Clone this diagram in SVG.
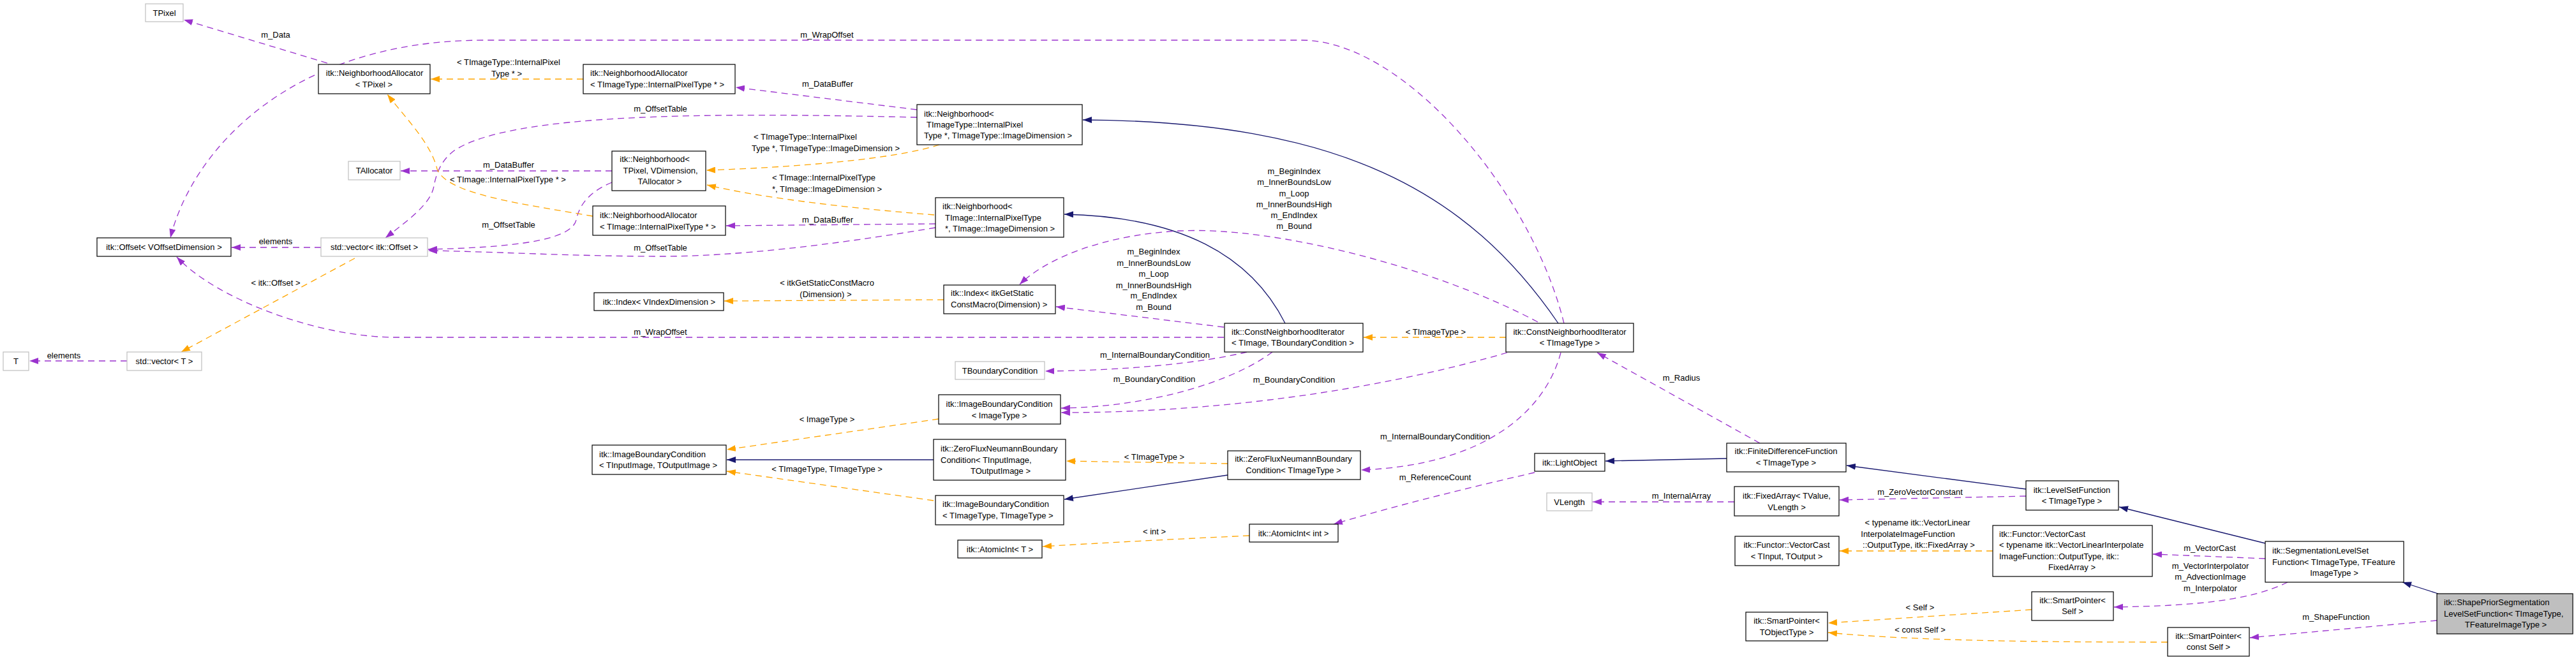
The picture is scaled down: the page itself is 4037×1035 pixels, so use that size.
<svg xmlns="http://www.w3.org/2000/svg" width="4037" height="1035" viewBox="0 0 4037 1035">
<style>
text{font-family:"Liberation Sans",Arial,Helvetica,sans-serif;font-size:13px;fill:#000}
.m{text-anchor:middle}
.s{text-anchor:start}
.n rect{fill:#fff;stroke:#000;stroke-width:1.2}
.g rect{fill:#fff;stroke:#bfbfbf;stroke-width:1.2}
.c rect{fill:#bfbfbf;stroke:#000;stroke-width:1.2}
#edges path{fill:none;stroke-width:1.3}
.u{stroke:#9a32cd;stroke-dasharray:10,7;marker-end:url(#ap)}
.t{stroke:#ffa500;stroke-dasharray:10,7;marker-end:url(#ao)}
.i{stroke:#191970;marker-end:url(#ab)}
</style>
<defs>
<marker id="ap" markerUnits="userSpaceOnUse" markerWidth="14" markerHeight="10" refX="14" refY="5" orient="auto"><path d="M0,0 L14,5 L0,10 z" fill="#9a32cd"/></marker>
<marker id="ao" markerUnits="userSpaceOnUse" markerWidth="14" markerHeight="10" refX="14" refY="5" orient="auto"><path d="M0,0 L14,5 L0,10 z" fill="#ffa500"/></marker>
<marker id="ab" markerUnits="userSpaceOnUse" markerWidth="14" markerHeight="10" refX="14" refY="5" orient="auto"><path d="M0,0 L14,5 L0,10 z" fill="#191970"/></marker>
</defs>
<rect width="4037" height="1035" fill="#fff"/>
<g id="edges">
<path class="u" d="M513,99 L288,31"/>
<path class="u" d="M2451,507 C2400,300 2200,63 2040,63 L760,63 C450,63 300,240 267,373"/>
<path class="u" d="M1437,172 L1153,137"/>
<path class="u" d="M1437,184 C1100,176 800,178 712,236 C690,252 683,275 680,292 C675,320 640,345 604,373"/>
<path class="u" d="M959,268 L628,268"/>
<path class="u" d="M959,286 C925,300 908,320 903,345 C895,378 800,388 671,391"/>
<path class="u" d="M1466,357 C1300,385 1150,402 1037,402 C900,402 760,394 671,393"/>
<path class="u" d="M1466,351 L1138,354"/>
<path class="t" d="M914,124 L675,124"/>
<path class="t" d="M929,339 C820,320 700,305 685,265 C675,225 640,190 607,148"/>
<path class="t" d="M1472,227 C1400,250 1250,262 1107,267"/>
<path class="t" d="M1464,337 C1350,328 1200,312 1108,290"/>
<path class="t" d="M1479,470 L1135,472"/>
<path class="u" d="M503,388 L363,388"/>
<path class="t" d="M556,405 L284,552"/>
<path class="u" d="M199,566 L46,566"/>
<path class="u" d="M1918,529 L620,529 C500,529 340,470 277,403"/>
<path class="i" d="M2014,507 C1960,400 1850,340 1668,336"/>
<path class="u" d="M1918,513 L1655,481"/>
<path class="u" d="M2410,505 C2250,420 2000,355 1850,362 C1730,368 1640,405 1598,446"/>
<path class="t" d="M2360,529 L2137,529"/>
<path class="i" d="M2442,507 C2300,300 2100,190 1697,188"/>
<path class="u" d="M1954,552 C1880,570 1760,581 1638,582"/>
<path class="u" d="M1994,552 C1930,600 1800,638 1663,640"/>
<path class="u" d="M2362,553 C2200,600 1950,647 1663,647"/>
<path class="t" d="M1471,657 L1139,705"/>
<path class="i" d="M1463,721 L1139,721"/>
<path class="t" d="M1463,785 L1139,739"/>
<path class="t" d="M1924,727 L1671,723"/>
<path class="i" d="M1924,745 L1668,783"/>
<path class="u" d="M2446,553 C2420,650 2320,730 2133,737"/>
<path class="u" d="M2405,741 C2300,765 2180,795 2090,822"/>
<path class="t" d="M1958,840 C1850,845 1750,850 1634,857"/>
<path class="i" d="M2706,719 L2516,723"/>
<path class="u" d="M2758,695 L2503,553"/>
<path class="i" d="M3175,767 L2894,730"/>
<path class="u" d="M3175,778 L2883,784"/>
<path class="u" d="M2718,787 L2496,787"/>
<path class="i" d="M3550,852 L3321,795"/>
<path class="u" d="M3550,876 L3374,869"/>
<path class="t" d="M3123,864 L2883,864"/>
<path class="u" d="M3585,913 C3530,940 3450,950 3313,952"/>
<path class="t" d="M3184,956 L2865,977"/>
<path class="t" d="M3397,1007 C3200,1007 3000,1005 2865,992"/>
<path class="i" d="M3821,931 L3765,913"/>
<path class="u" d="M3819,973 L3526,1000"/>
</g>
<g id="edge-labels">
<text class="m" x="432" y="58.5">m_Data</text>
<text class="m" x="1296" y="58.5">m_WrapOffset</text>
<text class="m" x="797" y="101.5">&lt; TImageType::InternalPixel</text>
<text class="m" x="794" y="119.5">Type * &gt;</text>
<text class="m" x="1297" y="135.5">m_DataBuffer</text>
<text class="m" x="1035" y="174.5">m_OffsetTable</text>
<text class="m" x="1262" y="218.5">&lt; TImageType::InternalPixel</text>
<text class="m" x="1294" y="236.5">Type *, TImageType::ImageDimension &gt;</text>
<text class="m" x="797" y="262.5">m_DataBuffer</text>
<text class="m" x="796" y="285.5">&lt; TImage::InternalPixelType * &gt;</text>
<text class="m" x="1291" y="282.5">&lt; TImage::InternalPixelType</text>
<text class="m" x="1296" y="300.5">*, TImage::ImageDimension &gt;</text>
<text class="m" x="797" y="356.5">m_OffsetTable</text>
<text class="m" x="1297" y="348.5">m_DataBuffer</text>
<text class="m" x="1035" y="392.5">m_OffsetTable</text>
<text class="m" x="432" y="382.5">elements</text>
<text class="m" x="432" y="447.5">&lt; itk::Offset &gt;</text>
<text class="m" x="1296" y="447.5">&lt; itkGetStaticConstMacro</text>
<text class="m" x="1294" y="465.5">(Dimension) &gt;</text>
<text class="m" x="2028" y="272.5">m_BeginIndex</text>
<text class="m" x="2028" y="289.5">m_InnerBoundsLow</text>
<text class="m" x="2028" y="307.5">m_Loop</text>
<text class="m" x="2028" y="324.5">m_InnerBoundsHigh</text>
<text class="m" x="2028" y="341.5">m_EndIndex</text>
<text class="m" x="2028" y="358.5">m_Bound</text>
<text class="m" x="1808" y="398.5">m_BeginIndex</text>
<text class="m" x="1808" y="416.5">m_InnerBoundsLow</text>
<text class="m" x="1808" y="433.5">m_Loop</text>
<text class="m" x="1808" y="451.5">m_InnerBoundsHigh</text>
<text class="m" x="1808" y="467.5">m_EndIndex</text>
<text class="m" x="1808" y="485.5">m_Bound</text>
<text class="m" x="1035" y="524.5">m_WrapOffset</text>
<text class="m" x="2250" y="524.5">&lt; TImageType &gt;</text>
<text class="m" x="100" y="561.5">elements</text>
<text class="m" x="1810" y="560.5">m_InternalBoundaryCondition</text>
<text class="m" x="1809" y="598.5">m_BoundaryCondition</text>
<text class="m" x="2028" y="599.5">m_BoundaryCondition</text>
<text class="m" x="2635" y="596.5">m_Radius</text>
<text class="m" x="1296" y="661.5">&lt; ImageType &gt;</text>
<text class="m" x="2249" y="688.5">m_InternalBoundaryCondition</text>
<text class="m" x="1809" y="720.5">&lt; TImageType &gt;</text>
<text class="m" x="1296" y="739.5">&lt; TImageType, TImageType &gt;</text>
<text class="m" x="2249" y="752.5">m_ReferenceCount</text>
<text class="m" x="3009" y="775.5">m_ZeroVectorConstant</text>
<text class="m" x="2635" y="781.5">m_InternalArray</text>
<text class="m" x="3005" y="823.5">&lt; typename itk::VectorLinear</text>
<text class="m" x="2990" y="841.5">InterpolateImageFunction</text>
<text class="m" x="3007" y="858.5">::OutputType, itk::FixedArray &gt;</text>
<text class="m" x="1809" y="837.5">&lt; int &gt;</text>
<text class="m" x="3463" y="863.5">m_VectorCast</text>
<text class="m" x="3464" y="891.5">m_VectorInterpolator</text>
<text class="m" x="3464" y="908.5">m_AdvectionImage</text>
<text class="m" x="3464" y="926.5">m_Interpolator</text>
<text class="m" x="3009" y="956.5">&lt; Self &gt;</text>
<text class="m" x="3661" y="971.5">m_ShapeFunction</text>
<text class="m" x="3009" y="991.5">&lt; const Self &gt;</text>
</g>
<g id="n1" class="g"><rect x="228" y="6" width="59" height="28"/><text class="m" x="257.5" y="24.5">TPixel</text></g>
<g id="n2" class="n"><rect x="499" y="101" width="175" height="46"/><text class="m" x="587" y="118.5">itk::NeighborhoodAllocator</text><text class="m" x="586" y="136.5">&lt; TPixel &gt;</text></g>
<g id="n3" class="g"><rect x="546" y="253" width="81" height="29"/><text class="m" x="586.5" y="271.5">TAllocator</text></g>
<g id="n4" class="n"><rect x="152" y="373" width="210" height="29"/><text class="m" x="257" y="392">itk::Offset&lt; VOffsetDimension &gt;</text></g>
<g id="n5" class="g"><rect x="503" y="373" width="167" height="29"/><text class="m" x="586.5" y="392">std::vector&lt; itk::Offset &gt;</text></g>
<g id="n6" class="g"><rect x="5" y="552" width="40" height="29"/><text class="m" x="25" y="571">T</text></g>
<g id="n7" class="g"><rect x="199" y="552" width="117" height="29"/><text class="m" x="257.5" y="571">std::vector&lt; T &gt;</text></g>
<g id="n8" class="n"><rect x="914" y="101" width="238" height="46"/><text class="s" x="925" y="118.5">itk::NeighborhoodAllocator</text><text class="s" x="925" y="136.5">&lt; TImageType::InternalPixelType * &gt;</text></g>
<g id="n9" class="n"><rect x="959" y="237" width="147" height="62"/><text class="m" x="1026" y="253.5">itk::Neighborhood&lt;</text><text class="m" x="1035" y="271.5">TPixel, VDimension,</text><text class="m" x="1034" y="288.5">TAllocator &gt;</text></g>
<g id="n10" class="n"><rect x="929" y="323" width="208" height="46"/><text class="s" x="940" y="341.5">itk::NeighborhoodAllocator</text><text class="s" x="940" y="359.5">&lt; TImage::InternalPixelType * &gt;</text></g>
<g id="n11" class="n"><rect x="931" y="459" width="203" height="28"/><text class="m" x="1033" y="477.5">itk::Index&lt; VIndexDimension &gt;</text></g>
<g id="n12" class="n"><rect x="1437" y="164" width="259" height="63"/><text class="s" x="1448" y="182.5">itk::Neighborhood&lt;</text><text class="s" x="1452" y="199.5">TImageType::InternalPixel</text><text class="s" x="1448" y="216.5">Type *, TImageType::ImageDimension &gt;</text></g>
<g id="n13" class="n"><rect x="1466" y="310" width="201" height="62"/><text class="s" x="1477" y="327.5">itk::Neighborhood&lt;</text><text class="s" x="1481" y="345.5">TImage::InternalPixelType</text><text class="s" x="1481" y="362.5">*, TImage::ImageDimension &gt;</text></g>
<g id="n14" class="n"><rect x="1479" y="447" width="175" height="45"/><text class="s" x="1490" y="463.5">itk::Index&lt; itkGetStatic</text><text class="s" x="1490" y="481.5">ConstMacro(Dimension) &gt;</text></g>
<g id="n15" class="n"><rect x="1919" y="507" width="217" height="45"/><text class="s" x="1930" y="524.5">itk::ConstNeighborhoodIterator</text><text class="s" x="1930" y="541.5">&lt; TImage, TBoundaryCondition &gt;</text></g>
<g id="n16" class="n"><rect x="2360" y="507" width="200" height="45"/><text class="m" x="2460" y="524.5">itk::ConstNeighborhoodIterator</text><text class="m" x="2460" y="541.5">&lt; TImageType &gt;</text></g>
<g id="n17" class="g"><rect x="1497" y="567" width="140" height="28"/><text class="m" x="1567" y="585.5">TBoundaryCondition</text></g>
<g id="n18" class="n"><rect x="1471" y="619" width="191" height="46"/><text class="m" x="1566" y="637.5">itk::ImageBoundaryCondition</text><text class="m" x="1566" y="655.5">&lt; ImageType &gt;</text></g>
<g id="n19" class="n"><rect x="1463" y="689" width="207" height="64"/><text class="s" x="1474" y="707.5">itk::ZeroFluxNeumannBoundary</text><text class="s" x="1474" y="725.5">Condition&lt; TInputImage,</text><text class="m" x="1568" y="742.5">TOutputImage &gt;</text></g>
<g id="n20" class="n"><rect x="1924" y="707" width="208" height="45"/><text class="m" x="2027" y="723.5">itk::ZeroFluxNeumannBoundary</text><text class="m" x="2027" y="741.5">Condition&lt; TImageType &gt;</text></g>
<g id="n21" class="n"><rect x="1466" y="777" width="201" height="46"/><text class="s" x="1477" y="794.5">itk::ImageBoundaryCondition</text><text class="s" x="1477" y="812.5">&lt; TImageType, TImageType &gt;</text></g>
<g id="n22" class="n"><rect x="1501" y="847" width="132" height="28"/><text class="m" x="1567" y="865.5">itk::AtomicInt&lt; T &gt;</text></g>
<g id="n23" class="n"><rect x="1958" y="822" width="139" height="28"/><text class="m" x="2027" y="840.5">itk::AtomicInt&lt; int &gt;</text></g>
<g id="n24" class="n"><rect x="928" y="698" width="210" height="46"/><text class="s" x="939" y="716.5">itk::ImageBoundaryCondition</text><text class="s" x="939" y="733.5">&lt; TInputImage, TOutputImage &gt;</text></g>
<g id="n25" class="n"><rect x="2706" y="695" width="187" height="45"/><text class="m" x="2799" y="711.5">itk::FiniteDifferenceFunction</text><text class="m" x="2799" y="729.5">&lt; TImageType &gt;</text></g>
<g id="n26" class="n"><rect x="2405" y="711" width="110" height="28"/><text class="m" x="2460" y="729.5">itk::LightObject</text></g>
<g id="n27" class="g"><rect x="2424" y="773" width="71" height="28"/><text class="m" x="2459.5" y="791.5">VLength</text></g>
<g id="n28" class="n"><rect x="2718" y="763" width="164" height="46"/><text class="m" x="2800" y="781.5">itk::FixedArray&lt; TValue,</text><text class="m" x="2800" y="799.5">VLength &gt;</text></g>
<g id="n29" class="n"><rect x="2719" y="841" width="163" height="46"/><text class="m" x="2800" y="858.5">itk::Functor::VectorCast</text><text class="m" x="2800" y="876.5">&lt; TInput, TOutput &gt;</text></g>
<g id="n30" class="n"><rect x="3175" y="754" width="145" height="46"/><text class="m" x="3247" y="772.5">itk::LevelSetFunction</text><text class="m" x="3247" y="789.5">&lt; TImageType &gt;</text></g>
<g id="n31" class="n"><rect x="3123" y="824" width="250" height="80"/><text class="s" x="3133" y="841.5">itk::Functor::VectorCast</text><text class="s" x="3133" y="858.5">&lt; typename itk::VectorLinearInterpolate</text><text class="s" x="3133" y="876.5">ImageFunction::OutputType, itk::</text><text class="m" x="3247" y="893.5">FixedArray &gt;</text></g>
<g id="n32" class="n"><rect x="3184" y="928" width="128" height="45"/><text class="m" x="3248" y="945.5">itk::SmartPointer&lt;</text><text class="m" x="3248" y="962.5">Self &gt;</text></g>
<g id="n33" class="n"><rect x="2736" y="960" width="128" height="45"/><text class="m" x="2800" y="977.5">itk::SmartPointer&lt;</text><text class="m" x="2800" y="995.5">TObjectType &gt;</text></g>
<g id="n34" class="n"><rect x="3550" y="849" width="217" height="64"/><text class="s" x="3561" y="867.5">itk::SegmentationLevelSet</text><text class="s" x="3561" y="885.5">Function&lt; TImageType, TFeature</text><text class="m" x="3658" y="902.5">ImageType &gt;</text></g>
<g id="n35" class="c"><rect x="3819" y="931" width="213" height="63"/><text class="s" x="3830" y="948.5">itk::ShapePriorSegmentation</text><text class="s" x="3830" y="966.5">LevelSetFunction&lt; TImageType,</text><text class="m" x="3927" y="983.5">TFeatureImageType &gt;</text></g>
<g id="n36" class="n"><rect x="3397" y="984" width="128" height="45"/><text class="m" x="3461" y="1001.5">itk::SmartPointer&lt;</text><text class="m" x="3461" y="1018.5">const Self &gt;</text></g>
</svg>
